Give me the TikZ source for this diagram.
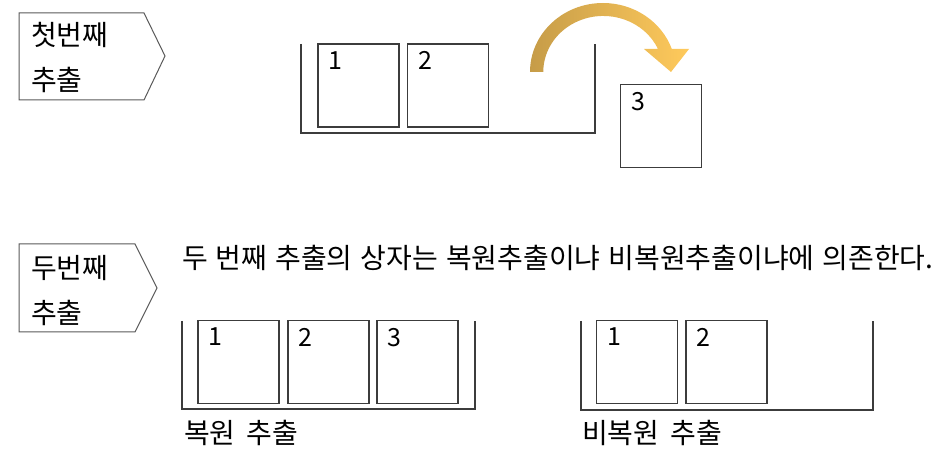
\documentclass[tikz,border=0pt]{standalone}
\usepackage{fontspec}
\setmainfont{Noto Sans CJK KR}
\definecolor{linegray}{HTML}{3C3C3C}
\definecolor{arrowdark}{RGB}{198,156,72}
\definecolor{arrowlight}{RGB}{255,202,92}
\newcommand{\bigtxt}{\fontsize{28}{32}\selectfont}
\tikzset{
  card/.style={draw=linegray, line width=1.4pt, minimum width=81pt, minimum height=83pt, inner sep=0pt},
  num/.style={anchor=north west, inner sep=0pt, font=\fontsize{25}{30}\selectfont},
  tray/.style={draw=linegray, line width=1.4pt},
  tag/.style={draw=linegray!85, line width=1pt},
  txt/.style={anchor=west, inner sep=0pt, font=\bigtxt}
}
\begin{document}
\begin{tikzpicture}[x=1pt, y=-1pt]
  \useasboundingbox (0,0) rectangle (940,454);
  \draw[tag] (19,13) -- (144,13) -- (165,56) -- (144,100) -- (19,100) -- cycle;
  \node[txt] (first1) at (31,35) {첫번째};
  \node[txt] (first2) at (31,80) {추출};
  \draw[tray] (301,44) -- (301,133) -- (595,133) -- (595,44);
  \node[card] (a1) at (358.5,85.5) {};
  \node[card] (a2) at (448,85.5) {};
  \node[card] (a3) at (661,126) {};
  \node[num] (a1n) at ([shift={(11pt,-8pt)}]a1.north west) {1};
  \node[num] (a2n) at ([shift={(11pt,-8pt)}]a2.north west) {2};
  \node[num] (a3n) at ([shift={(11pt,-8pt)}]a3.north west) {3};
  \shade[left color=arrowdark, right color=arrowlight]
    (530,72) arc[start angle=180, end angle=340.5, x radius=73, y radius=69]
    -- (689,49) -- (671,72) -- (644,49) -- (658,49)
    arc[start angle=335.8, end angle=180, x radius=60, y radius=56] -- cycle;
  \draw[tag] (19,244) -- (135,244) -- (157,288) -- (135,332) -- (19,332) -- cycle;
  \node[txt] (second1) at (31,268) {두번째};
  \node[txt] (second2) at (31,313) {추출};
  \node[txt] (note) at (182,258) {두\hspace{8pt}번째\hspace{8pt}추출의\hspace{8pt}상자는\hspace{8pt}복원추출이냐\hspace{8pt}비복원추출이냐에\hspace{8pt}의존한다.};
  \draw[tray] (182,321) -- (182,409) -- (475,409) -- (475,321);
  \node[card] (b1) at (238.5,362) {};
  \node[card] (b2) at (328.5,362) {};
  \node[card] (b3) at (417.5,362) {};
  \node[num] (b1n) at ([shift={(11pt,-8pt)}]b1.north west) {1};
  \node[num] (b2n) at ([shift={(11pt,-8pt)}]b2.north west) {2};
  \node[num] (b3n) at ([shift={(11pt,-8pt)}]b3.north west) {3};
  \node[txt] (with) at (184,433) {복원\hspace{11pt}추출};
  \draw[tray] (581,321) -- (581,410) -- (873,410) -- (873,321);
  \node[card] (c1) at (637,362) {};
  \node[card] (c2) at (726.5,362) {};
  \node[num] (c1n) at ([shift={(11pt,-8pt)}]c1.north west) {1};
  \node[num] (c2n) at ([shift={(11pt,-8pt)}]c2.north west) {2};
  \node[txt] (without) at (582,433) {비복원\hspace{11pt}추출};
\end{tikzpicture}
\end{document}
